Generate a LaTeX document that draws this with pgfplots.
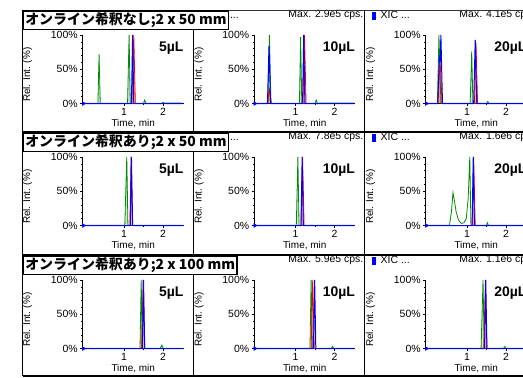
\documentclass[border=0pt]{standalone}
\usepackage{fontspec}
\setmainfont{Liberation Sans}
\newfontfamily\cjk{Noto Sans CJK JP}
\usepackage{pgfplots}
\pgfplotsset{compat=1.18}
\definecolor{cgreen}{RGB}{0,140,0}
\definecolor{cred}{RGB}{255,0,0}
\definecolor{cblue}{RGB}{0,0,255}
\newcommand{\fs}{\fontsize{10.5}{11}\selectfont}
\pgfplotsset{
  chrom/.style={
    scale only axis, width=101bp, height=68.5bp,
    xmin=-0.06, xmax=2.53, ymin=0, ymax=100,
    axis x line*=bottom, axis y line*=left,
    axis line style={black, line width=0.6bp},
    xtick={1,2}, ytick={0,50,100}, yticklabels={0\%,50\%,100\%},
    minor x tick num=1, minor y tick num=4,
    tick align=outside, tick style={black, line width=0.5bp},
    major tick length=2.5bp, minor tick length=1.5bp,
    /pgf/number format/assume math mode=true,
    tick label style={font=\fs},
    xticklabel style={yshift=1bp},
    yticklabel style={xshift=1bp},
    xlabel={Time, min}, ylabel={Rel. Int. (\%)},
    label style={font=\fs},
    every axis x label/.style={at={(axis description cs:0.5,0)}, anchor=center, yshift=-20bp},
    every axis y label/.style={at={(axis description cs:-0.545,0.42)}, anchor=center, rotate=90},
    clip=false,
  },
  gr/.style={cgreen, line width=0.8bp, fill=cgreen, fill opacity=0.2, draw opacity=1},
  grn/.style={cgreen, line width=0.8bp},
  rd/.style={cred, line width=0.8bp, fill=cred, fill opacity=0.3, draw opacity=1},
  bl/.style={cblue, line width=1bp},
  org/.style={cblue, only marks, mark=triangle*, mark options={rotate=-90}, mark size=2.2bp},
}
\newcommand{\vol}[1]{\node[anchor=east, font=\bfseries\fontsize{14}{14}\selectfont, inner sep=0pt] at (axis description cs:1,0.81) {#1};}
\newcommand{\hdr}[3]{% x of column left line, y of row top, max text
  \fill[cblue] (#1bp+7bp,-#2bp-1.7bp) rectangle (#1bp+11.5bp,-#2bp-9.5bp);
  \node[anchor=west, font=\fs, inner sep=0pt] at (#1bp+16bp,-#2bp-5bp) {XIC ...};
  \node[anchor=east, font=\fs, inner sep=0pt] at (#1bp+170bp,-#2bp-5bp) {#3};
}
\newcommand{\ttl}[2]{% y of row top, text
  \node[draw=black, line width=1.6bp, fill=white, anchor=north west, inner xsep=2bp, inner ysep=0pt, minimum height=18.5bp, font=\cjk\bfseries\fontsize{14}{14}\selectfont] at (22.5bp,-#1bp) {#2};
}
\begin{document}
\begin{tikzpicture}
\useasboundingbox (0,0) rectangle (523bp,-378bp);
\clip (0,0) rectangle (523bp,-378bp);
\fill[white] (0,0) rectangle (523bp,-378bp);

% headers (column 1 headers are hidden under the title boxes)
\hdr{193.5}{10}{Max. 2.9e5 cps.}
\hdr{364.5}{10}{Max. 4.1e5 cps.}
\hdr{193.5}{132}{Max. 7.8e5 cps.}
\hdr{364.5}{132}{Max. 1.6e6 cps.}
\hdr{193.5}{255}{Max. 5.9e5 cps.}
\hdr{364.5}{255}{Max. 1.1e6 cps.}

% ---------------- Row 1 ----------------
\begin{axis}[chrom, at={(82.7bp,-103.5bp)}]
\addplot[gr] coordinates {(0,0.5) (0.33,0.5) (0.36,72) (0.39,0.5) (1.09,0.5) (1.13,100) (1.16,0.5) (1.50,0.5) (1.53,5) (1.56,0.5) (1.98,0.5) (2.0,2) (2.02,0.5) (2.5,0.8)};
\addplot[rd] coordinates {(0,0) (1.20,0) (1.25,100) (1.29,0) (2.5,0)};
\addplot[bl] coordinates {(0,0) (1.19,0) (1.22,100) (1.25,0) (2.5,0)};
\addplot[org] coordinates {(-0.04,0)};
\vol{5µL}
\end{axis}
\begin{axis}[chrom, at={(254.2bp,-103.5bp)}]
\addplot[gr] coordinates {(0,0.5) (0.29,0.5) (0.33,100) (0.37,0.5) (1.10,0.5) (1.13,97) (1.16,0.5) (1.50,0.5) (1.53,5) (1.56,0.5) (2.5,0.8)};
\addplot[rd] coordinates {(0,0) (0.28,0) (0.33,20) (0.38,0) (1.19,0) (1.23,100) (1.27,0) (2.5,0)};
\addplot[bl] coordinates {(0,0) (0.28,0) (0.32,84) (0.36,0) (1.18,0) (1.21,100) (1.24,0) (2.5,0)};
\addplot[org] coordinates {(-0.04,0)};
\vol{10µL}
\end{axis}
\begin{axis}[chrom, at={(425.7bp,-103.5bp)}]
\addplot[gr] coordinates {(0,0.5) (0.24,0.5) (0.28,100) (0.33,0.5) (1.08,0.5) (1.12,76) (1.15,0.5) (1.50,0.5) (1.53,3) (1.56,0.5) (2.5,0.5)};
\addplot[rd] coordinates {(0,0) (0.25,0) (0.31,62) (0.36,0) (1.19,0) (1.23,88) (1.27,0) (2.5,0)};
\addplot[bl] coordinates {(0,0) (0.25,0) (0.29,70) (0.31,60) (0.33,100) (0.37,0) (1.17,0) (1.21,93) (1.25,0) (2.5,0)};
\addplot[org] coordinates {(-0.04,0)};
\vol{20µL}
\end{axis}

% ---------------- Row 2 ----------------
\begin{axis}[chrom, at={(82.7bp,-225.5bp)}]
\addplot[gr] coordinates {(0,0.5) (1.02,0.5) (1.07,100) (1.10,0.5) (2.5,0.5)};
\addplot[rd] coordinates {(0,0) (1.15,0) (1.18,100) (1.22,0) (2.5,0)};
\addplot[bl] coordinates {(0,0) (1.16,0) (1.19,100) (1.22,0) (2.5,0)};
\addplot[org] coordinates {(-0.04,0)};
\vol{5µL}
\end{axis}
\begin{axis}[chrom, at={(254.2bp,-225.5bp)}]
\addplot[gr] coordinates {(0,0.5) (1.02,0.5) (1.06,100) (1.09,0.5) (2.5,0.5)};
\addplot[rd] coordinates {(0,0) (1.14,0) (1.18,100) (1.22,0) (2.5,0)};
\addplot[bl] coordinates {(0,0) (1.14,0) (1.17,100) (1.20,0) (2.5,0)};
\addplot[org] coordinates {(-0.04,0)};
\vol{10µL}
\end{axis}
\begin{axis}[chrom, at={(425.7bp,-225.5bp)}]
\addplot[grn] coordinates {(0,0.5) (0.55,0.5) (0.60,20) (0.64,48) (0.68,35) (0.72,20) (0.78,8) (0.85,3) (0.92,4) (0.98,10) (1.03,40) (1.07,100) (1.10,0.5) (1.50,0.5) (1.52,4) (1.55,0.5) (2.5,0.5)};
\addplot[rd] coordinates {(0,0) (1.13,0) (1.17,100) (1.21,0) (2.5,0)};
\addplot[bl] coordinates {(0,0) (1.13,0) (1.16,100) (1.19,0) (2.5,0)};
\addplot[org] coordinates {(-0.04,0)};
\vol{20µL}
\end{axis}

% ---------------- Row 3 ----------------
\begin{axis}[chrom, at={(82.7bp,-348.5bp)}]
\addplot[gr] coordinates {(0,0.5) (1.41,0.5) (1.44,100) (1.47,0.5) (1.93,0.5) (1.97,5) (2.0,0.5) (2.5,0.5)};
\addplot[rd] coordinates {(0,0) (1.45,0) (1.49,100) (1.53,0) (2.5,0)};
\addplot[bl] coordinates {(0,0) (1.47,0) (1.50,100) (1.53,0) (2.5,0)};
\addplot[org] coordinates {(-0.04,0)};
\vol{5µL}
\end{axis}
\begin{axis}[chrom, at={(254.2bp,-348.5bp)}]
\addplot[gr] coordinates {(0,0.5) (1.37,0.5) (1.40,100) (1.43,0.5) (1.92,0.5) (1.95,3) (1.98,0.5) (2.5,0.5)};
\addplot[rd] coordinates {(0,0) (1.40,0) (1.44,100) (1.48,0) (2.5,0)};
\addplot[bl] coordinates {(0,0) (1.46,0) (1.49,100) (1.52,0) (2.5,0)};
\addplot[org] coordinates {(-0.04,0)};
\vol{10µL}
\end{axis}
\begin{axis}[chrom, at={(425.7bp,-348.5bp)}]
\addplot[gr] coordinates {(0,0.5) (1.36,0.5) (1.41,100) (1.44,0.5) (1.94,0.5) (1.97,3) (2.0,0.5) (2.5,0.5)};
\addplot[rd] coordinates {(0,0) (1.43,0) (1.47,100) (1.51,0) (2.5,0)};
\addplot[bl] coordinates {(0,0) (1.45,0) (1.48,100) (1.51,0) (2.5,0)};
\addplot[org] coordinates {(-0.04,0)};
\vol{20µL}
\end{axis}

% frame lines
\draw[black!80, line width=0.6bp] (22.5bp,-10bp) -- (540bp,-10bp);
\draw[black, line width=1.3bp] (22.5bp,-132bp) -- (540bp,-132bp);
\draw[black, line width=1.3bp] (22.5bp,-255bp) -- (540bp,-255bp);
\draw[black, line width=1.3bp] (22.5bp,-376bp) -- (540bp,-376bp);
\foreach \xx in {22.5,193.5,364.5} {\draw[black, line width=0.8bp] (\xx bp,-10bp) -- (\xx bp,-376bp);}

% title boxes
\ttl{10}{オンライン希釈なし;2 x 50 mm}
\ttl{132}{オンライン希釈あり;2 x 50 mm}
\ttl{255}{オンライン希釈あり;2 x 100 mm}
\end{tikzpicture}
\end{document}
